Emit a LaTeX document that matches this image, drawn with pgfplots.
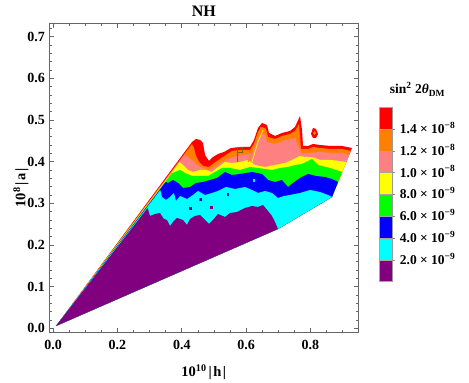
\documentclass[border=0pt]{standalone}
\usepackage{fontspec}
\setmainfont{Liberation Serif}
\usepackage{pgfplots}
\pgfplotsset{compat=1.18}

\definecolor{cPurple}{RGB}{128,0,128}
\definecolor{cCyan}{RGB}{0,255,255}
\definecolor{cBlue}{RGB}{0,0,255}
\definecolor{cGreen}{RGB}{0,255,0}
\definecolor{cYellow}{RGB}{255,255,0}
\definecolor{cPink}{RGB}{255,128,128}
\definecolor{cOrange}{RGB}{255,128,0}
\definecolor{cRed}{RGB}{255,0,0}
\definecolor{cBrown}{RGB}{140,90,20}

\begin{document}
\begin{tikzpicture}
\useasboundingbox (-49.3pt,-50.3pt) rectangle (419.7pt,332.7pt);

% contour plot: each layer is the region below one contour level
\begin{axis}[
    at={(0pt,0pt)}, anchor=south west,
    width=309pt, height=309.4pt, scale only axis,
    xmin=-0.0118, xmax=0.9487, ymin=-0.0106, ymax=0.7319,
    xtick={0,0.2,0.4,0.6,0.8}, ytick={0,0.1,0.2,0.3,0.4,0.5,0.6,0.7},
    minor xtick={0.05,0.1,0.15,0.25,0.3,0.35,0.45,0.5,0.55,0.65,0.7,0.75,0.85,0.9},
    minor ytick={0.02,0.04,0.06,0.08,0.12,0.14,0.16,0.18,0.22,0.24,0.26,0.28,0.32,0.34,0.36,0.38,0.42,0.44,0.46,0.48,0.52,0.54,0.56,0.58,0.62,0.64,0.66,0.68,0.72},
    tick align=inside, major tick length=4.5pt, minor tick length=2.5pt,
    axis line style={black!60, line width=0.8pt},
    every tick/.style={black!60, line width=0.6pt},
    tick label style={font=\fontsize{14}{16}\selectfont\bfseries},
    /pgf/number format/fixed, /pgf/number format/fixed zerofill,
    /pgf/number format/precision=1, /pgf/number format/assume math mode=true,
    xticklabel style={anchor=base, yshift=-17.3pt},
    yticklabel style={anchor=east, inner sep=0pt, xshift=-4.3pt},
    title={\fontsize{16}{18}\selectfont\bfseries NH},
    every axis title/.style={at={(axis description cs:0.5,1.0204)}, anchor=base, inner sep=0pt},
    xlabel={\fontsize{14.5}{16}\selectfont\bfseries 10\textsuperscript{10}\kern2pt|\kern1.5pt h\kern1.5pt|},
    xlabel style={at={(axis description cs:0.5,-0.1416)}, anchor=base, inner sep=0pt},
    ylabel={\fontsize{14.5}{16}\selectfont\bfseries 10\textsuperscript{8}\kern2pt|\kern1.5pt a\kern1.5pt|},
    ylabel style={at={(axis description cs:-0.0916,0.4677)}, anchor=center, inner sep=0pt},
]
% sin^2 2theta < 1.6e-8 (whole region)
\addplot[fill=cRed, draw=none] coordinates {(0.009,0.0055) (0.4318,0.4471) (0.4442,0.4543) (0.4567,0.4519) (0.466,0.4447) (0.4722,0.4159) (0.4846,0.4015) (0.4971,0.4111) (0.5126,0.4183) (0.5312,0.4231) (0.553,0.4327) (0.581,0.4351) (0.6121,0.4351) (0.6245,0.4519) (0.6369,0.4807) (0.6493,0.4927) (0.6649,0.4879) (0.6711,0.4687) (0.6898,0.4615) (0.7115,0.4687) (0.7364,0.4735) (0.752,0.4831) (0.7675,0.5095) (0.7738,0.4759) (0.7769,0.4375) (0.7924,0.4375) (0.8079,0.4423) (0.8297,0.4399) (0.8608,0.4375) (0.898,0.4375) (0.9291,0.4327) (0.867,0.3151) (0.6991,0.2383)} -- cycle;
% < 1.4e-8
\addplot[fill=cOrange, draw=none] coordinates {(0.009,0.0055) (0.4315,0.4423) (0.438,0.4327) (0.4442,0.4135) (0.4535,0.3991) (0.466,0.3895) (0.4846,0.3871) (0.5002,0.3967) (0.5188,0.4063) (0.5375,0.4159) (0.5561,0.4255) (0.581,0.4279) (0.6121,0.4279) (0.6245,0.4423) (0.6369,0.4711) (0.6493,0.4831) (0.6618,0.4783) (0.668,0.4591) (0.6898,0.4543) (0.7115,0.4615) (0.7364,0.4663) (0.752,0.4735) (0.7644,0.4903) (0.7675,0.4615) (0.7706,0.4303) (0.7924,0.4303) (0.8079,0.4351) (0.8297,0.4327) (0.8608,0.4303) (0.898,0.4303) (0.9254,0.4255) (0.867,0.3151) (0.6991,0.2383)} -- cycle;
% < 1.2e-8
\addplot[fill=cPink, draw=none] coordinates {(0.009,0.0055) (0.4078,0.4159) (0.4193,0.4111) (0.4318,0.4039) (0.4473,0.3919) (0.466,0.3847) (0.4877,0.3799) (0.5064,0.3895) (0.525,0.3991) (0.5499,0.4087) (0.581,0.4159) (0.6121,0.4183) (0.6245,0.4303) (0.6369,0.4567) (0.6493,0.4687) (0.6587,0.4639) (0.6649,0.4471) (0.6898,0.4423) (0.7147,0.4495) (0.7395,0.4543) (0.752,0.4567) (0.7675,0.4279) (0.7706,0.4207) (0.7986,0.4207) (0.8297,0.4231) (0.8608,0.4207) (0.898,0.4207) (0.9201,0.4159) (0.867,0.3151) (0.6991,0.2383)} -- cycle;
% < 1.0e-8
\addplot[fill=cYellow, draw=none] coordinates {(0.009,0.0055) (0.3932,0.3991) (0.4038,0.3919) (0.4193,0.3799) (0.4349,0.3751) (0.4567,0.3799) (0.4753,0.3799) (0.494,0.3751) (0.5126,0.3871) (0.5344,0.3991) (0.5561,0.3967) (0.581,0.3991) (0.6058,0.4039) (0.6276,0.3919) (0.6587,0.3871) (0.6898,0.3919) (0.7209,0.3967) (0.7427,0.4039) (0.7675,0.4135) (0.7831,0.4111) (0.8048,0.4111) (0.8297,0.4039) (0.8608,0.4039) (0.8918,0.4015) (0.9114,0.3991) (0.867,0.3151) (0.6991,0.2383)} -- cycle;
% < 8e-9
\addplot[fill=cGreen, draw=none] coordinates {(0.009,0.0055) (0.3693,0.3727) (0.3789,0.3751) (0.3944,0.3799) (0.41,0.3727) (0.4318,0.3655) (0.4567,0.3655) (0.4815,0.3655) (0.5033,0.3751) (0.525,0.3847) (0.5499,0.3847) (0.581,0.3799) (0.6121,0.3871) (0.6369,0.3847) (0.6587,0.3823) (0.6804,0.3799) (0.7053,0.3847) (0.7302,0.3871) (0.752,0.3919) (0.7738,0.3943) (0.7924,0.4015) (0.8048,0.4063) (0.8235,0.3919) (0.8608,0.3847) (0.8987,0.3751) (0.867,0.3151) (0.6991,0.2383)} -- cycle;
% < 6e-9
\addplot[fill=cBlue, draw=none] coordinates {(0.009,0.0055) (0.35,0.3511) (0.3572,0.3487) (0.3727,0.3559) (0.3883,0.3487) (0.4038,0.3367) (0.4256,0.3391) (0.4442,0.3487) (0.466,0.3511) (0.4877,0.3559) (0.5095,0.3607) (0.5344,0.3751) (0.5561,0.3679) (0.581,0.3703) (0.6183,0.3751) (0.6493,0.3703) (0.668,0.3559) (0.6898,0.3511) (0.7115,0.3559) (0.7302,0.3391) (0.7457,0.3487) (0.7675,0.3607) (0.7924,0.3703) (0.8172,0.3655) (0.8452,0.3631) (0.867,0.3583) (0.8859,0.3511) (0.867,0.3151) (0.6991,0.2383)} -- cycle;
% < 4e-9
\addplot[fill=cCyan, draw=none] coordinates {(0.009,0.0055) (0.3332,0.3319) (0.3385,0.3151) (0.351,0.3079) (0.3634,0.3151) (0.3758,0.3247) (0.382,0.3055) (0.3944,0.3175) (0.4162,0.3103) (0.4349,0.3199) (0.4504,0.3295) (0.4722,0.3199) (0.494,0.3247) (0.5126,0.3295) (0.5375,0.3391) (0.5654,0.3343) (0.5965,0.3391) (0.6183,0.3319) (0.6369,0.3247) (0.6587,0.3295) (0.6804,0.3247) (0.6991,0.3127) (0.7177,0.3175) (0.7364,0.3199) (0.7675,0.3247) (0.7986,0.3319) (0.8297,0.3271) (0.8545,0.3199) (0.867,0.3151) (0.6991,0.2383)} -- cycle;
% < 2e-9
\addplot[fill=cPurple, draw=none] coordinates {(0.009,0.0055) (0.2938,0.2887) (0.3012,0.2695) (0.3168,0.2743) (0.3322,0.2767) (0.3447,0.2623) (0.354,0.2599) (0.3634,0.2455) (0.3727,0.2551) (0.3851,0.2647) (0.4038,0.2599) (0.4162,0.2479) (0.4256,0.2623) (0.4411,0.2695) (0.4567,0.2719) (0.4722,0.2599) (0.4846,0.2503) (0.494,0.2575) (0.5126,0.2743) (0.5344,0.2671) (0.5499,0.2767) (0.5717,0.2791) (0.5965,0.2887) (0.6183,0.2935) (0.6369,0.2911) (0.6525,0.2959) (0.668,0.2815) (0.6804,0.2695) (0.6898,0.2551) (0.6991,0.2383)} -- cycle;
% islands
\addplot[fill=cPurple, draw=none] coordinates {(0.4225,0.2839) (0.4318,0.2839) (0.4318,0.2911) (0.4225,0.2911)} -- cycle;
\addplot[fill=cPurple, draw=none] coordinates {(0.4877,0.2863) (0.4971,0.2863) (0.4971,0.2935) (0.4877,0.2935)} -- cycle;
\addplot[fill=cBlue, draw=none] coordinates {(0.455,0.305) (0.463,0.306) (0.462,0.313) (0.455,0.312)} -- cycle;
\addplot[fill=cBlue, draw=none] coordinates {(0.54,0.318) (0.548,0.318) (0.548,0.325) (0.54,0.325)} -- cycle;
\addplot[fill=cCyan, draw=none] coordinates {(0.62,0.352) (0.628,0.352) (0.628,0.358) (0.62,0.358)} -- cycle;
\addplot[fill=cRed, draw=none] coordinates {(0.8017,0.4663) (0.8079,0.4807) (0.8172,0.4783) (0.8235,0.4663) (0.8172,0.4567) (0.8079,0.4567)} -- cycle;
\addplot[fill=cOrange, draw=none] coordinates {(0.8079,0.4687) (0.8126,0.4735) (0.8172,0.4687) (0.8126,0.4639)} -- cycle;
% thin contour lines of the tower near h = 0.6
\addplot[draw=cBrown, line width=0.8pt] coordinates {(0.5717,0.3991) (0.5717,0.4351) (0.5872,0.4351) (0.5872,0.4231) (0.5717,0.4231)};
\addplot[draw=cOrange, line width=0.8pt] coordinates {(0.6058,0.3991) (0.6121,0.4087) (0.6307,0.4519) (0.6462,0.4831)};
\addplot[draw=cYellow, line width=0.7pt] coordinates {(0.6183,0.3991) (0.6369,0.4471) (0.6525,0.4759)};
\end{axis}

% colour bar
\begin{axis}[
    at={(329.7pt,51pt)}, anchor=south west,
    width=13pt, height=174.4pt, scale only axis,
    xmin=0, xmax=1, ymin=0, ymax=16,
    xtick=\empty, ytick={2,4,6,8,10,12,14},
    ytick pos=right, yticklabel pos=right,
    tick align=outside, major tick length=3pt,
    every tick/.style={black!50},
    axis line style={black!40},
    yticklabels={2.0 × 10\textsuperscript{−9}, 4.0 × 10\textsuperscript{−9}, 6.0 × 10\textsuperscript{−9}, 8.0 × 10\textsuperscript{−9}, 1.0 × 10\textsuperscript{−8}, 1.2 × 10\textsuperscript{−8}, 1.4 × 10\textsuperscript{−8}},
    yticklabel style={font=\fontsize{13.5}{15}\selectfont\bfseries, anchor=base west, inner sep=0pt, xshift=4.7pt, yshift=-4.5pt},
    title={\fontsize{13.5}{15}\selectfont\bfseries sin\textsuperscript{2} 2\textit{θ}\textsubscript{DM}},
    every axis title/.style={at={(axis description cs:0.5,1)}, anchor=base, inner sep=0pt, xshift=32pt, yshift=13.3pt},
]
\addplot[fill=cPurple, draw=black!35] coordinates {(0,0) (1,0) (1,2) (0,2)} -- cycle;
\addplot[fill=cCyan, draw=black!35] coordinates {(0,2) (1,2) (1,4) (0,4)} -- cycle;
\addplot[fill=cBlue, draw=black!35] coordinates {(0,4) (1,4) (1,6) (0,6)} -- cycle;
\addplot[fill=cGreen, draw=black!35] coordinates {(0,6) (1,6) (1,8) (0,8)} -- cycle;
\addplot[fill=cYellow, draw=black!35] coordinates {(0,8) (1,8) (1,10) (0,10)} -- cycle;
\addplot[fill=cPink, draw=black!35] coordinates {(0,10) (1,10) (1,12) (0,12)} -- cycle;
\addplot[fill=cOrange, draw=black!35] coordinates {(0,12) (1,12) (1,14) (0,14)} -- cycle;
\addplot[fill=cRed, draw=black!35] coordinates {(0,14) (1,14) (1,16) (0,16)} -- cycle;
\end{axis}
\end{tikzpicture}
\end{document}
